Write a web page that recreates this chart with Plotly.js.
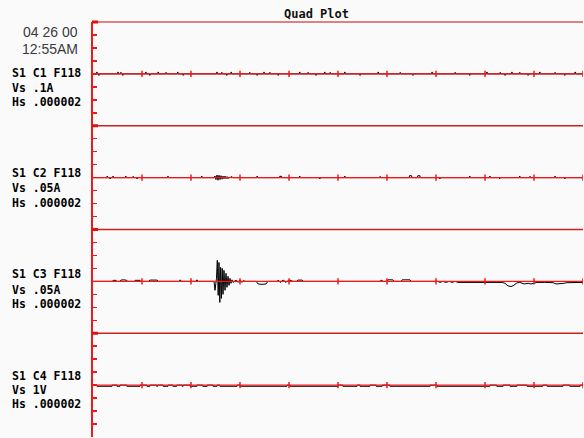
<!DOCTYPE html>
<html><head><meta charset="utf-8">
<script src="https://cdn.plot.ly/plotly-3.0.1.min.js"></script>
<style>html,body{margin:0;padding:0;background:#fafafa}#chart{width:584px;height:438px}</style>
</head><body><div id="chart"></div>
<script>
// ---- texts ----
const chartTitle = 'Quad Plot';
const dateLines = ['04 26 00', '12:55AM'];
const channelNames = ['S1 C1 F118', 'S1 C2 F118', 'S1 C3 F118', 'S1 C4 F118'];
const vScales = ['Vs .1A', 'Vs .05A', 'Vs .05A', 'Vs 1V'];
const hScales = ['Hs .000002', 'Hs .000002', 'Hs .000002', 'Hs .000002'];

// ---- waveforms: time in horizontal divisions, value in vertical divisions ----
const c1_t = [0,
 0.07,0.08,0.09, 0.11,0.12,0.13, 0.5,0.51,0.52, 0.56,0.57,0.58, 0.6,0.61,0.62,
 1.07,1.08,1.09, 1.15,1.16,1.17, 1.32,1.33,1.34, 1.48,1.49,1.5, 1.72,1.73,1.74, 1.83,1.84,1.85,
 2.52,2.53,2.54, 2.62,2.63,2.64, 2.72,2.73,2.74, 2.81,2.82,2.83,
 3.19,3.2,3.21, 3.34,3.35,3.36, 3.48,3.49,3.5, 3.6,3.61,3.62, 3.77,3.78,3.79,
 4.21,4.22,4.23, 4.38,4.39,4.4, 4.54,4.55,4.56, 4.72,4.73,4.74, 4.83,4.84,4.85,
 5.13,5.14,5.15, 5.44,5.45,5.46, 5.81,5.82,5.83,
 6.26,6.27,6.28, 6.52,6.53,6.54, 6.91,6.92,6.93,
 7.38,7.39,7.4, 7.68,7.69,7.7,
 8.03,8.04,8.05, 8.3,8.31,8.32, 8.4,8.41,8.42, 8.54,8.55,8.56, 8.7,8.71,8.72, 8.87,8.88,8.89,
 9.11,9.12,9.13, 9.42,9.43,9.44, 9.62,9.63,9.64, 9.83,9.84,9.85,
 10];
const c1_v = [0,
 0,0.15,0, 0,-0.12,0, 0,0.15,0, 0,0.12,0, 0,-0.12,0,
 0,0.15,0, 0,-0.12,0, 0,0.15,0, 0,0.12,0, 0,0.15,0, 0,-0.12,0,
 0,0.15,0, 0,0.12,0, 0,-0.12,0, 0,0.15,0,
 0,0.12,0, 0,-0.12,0, 0,0.15,0, 0,0.12,0, 0,-0.12,0,
 0,0.15,0, 0,0.12,0, 0,-0.12,0, 0,0.15,0, 0,0.12,0,
 0,0.15,0, 0,-0.12,0, 0,0.15,0,
 0,0.12,0, 0,-0.12,0, 0,0.15,0,
 0,0.12,0, 0,-0.12,0,
 0,0.15,0, 0,0.12,0, 0,-0.12,0, 0,0.15,0, 0,0.12,0, 0,-0.12,0,
 0,0.15,0, 0,0.12,0, 0,-0.12,0, 0,0.15,0,
 0];

const c2_t = [0,
 0.28,0.29,0.3, 0.34,0.35,0.36, 0.4,0.41,0.42, 0.66,0.67,0.68, 0.81,0.82,0.83, 0.89,0.9,0.91, 1.52,1.53,1.54, 2.21,2.22,2.23,
 2.469,2.49,2.51,2.531,2.551,2.571,2.592,2.612,2.633,2.653,2.673,2.694,2.714,2.735,2.755,2.776,2.796,2.837,2.857,
 3.34,3.35,3.36, 3.8,3.81,3.85,3.86, 4.21,4.22,4.23, 4.62,4.63,4.64, 5.13,5.14,5.15, 5.85,5.86,5.87,
 6.45,6.46,6.5,6.51, 6.62,6.63,6.67,6.68, 7.07,7.08,7.09, 7.68,7.69,7.7, 8.09,8.1,8.11, 8.29,8.3,8.31,
 8.7,8.71,8.72, 8.91,8.92,8.93, 9.42,9.43,9.44, 9.62,9.63,9.64,
 10];
const c2_v = [0,
 0,0.12,0, 0,-0.1,0, 0,0.12,0, 0,0.12,0, 0,0.1,0, 0,-0.1,0, 0,0.12,0, 0,0.12,0,
 0,0.12,-0.15,0.2,-0.2,0.18,-0.15,0.15,-0.12,0.12,-0.08,0.12,-0.08,0.08,-0.08,0.04,0,0.08,0,
 0,0.12,0, 0,0.1,0.1,0, 0,0.12,0, 0,-0.1,0, 0,0.12,0, 0,0.1,0,
 0,0.15,0.15,0, 0,0.15,0.15,0, 0,-0.1,0, 0,0.12,0, 0,0.12,0, 0,-0.1,0,
 0,0.12,0, 0,0.1,0, 0,0.12,0, 0,-0.1,0,
 0];

const c3_t = [0,
 0.39,0.41,0.47,0.49, 0.55,0.57,0.63,0.69,0.71, 0.84,0.86,0.96,0.98, 1.14,1.16,1.31,1.33, 1.76,1.78,1.8, 2.1,2.12,2.14,
 2.47,2.49,2.52,2.537,2.555,2.571,2.588,2.604,2.62,2.637,2.653,2.673,2.694,2.714,2.735,2.755,2.776,2.796,2.816,2.837,2.857,2.878,
 2.92,2.96,3.0,3.04,3.08,3.1,
 3.33,3.37,3.45,3.53,3.57,
 3.76,3.78,3.82,3.88,3.94,3.96, 4.02,4.08,
 4.16,4.18,4.27,4.29,
 5.86,5.88,5.92, 6.0,6.02,6.12,6.14, 6.29,6.31,6.47,6.49,
 7.04,7.08,7.14,7.2,7.27,7.33,7.39,7.45,
 7.49,7.69,7.9,8.02,8.18,8.35,
 8.41,8.47,8.53,8.59,8.65,8.71,8.8,8.88,8.94,9.02,9.06,9.22,9.39,9.45,9.53,9.61,9.67,9.84,10];
const c3_v = [0,
 0,0.08,0.08,0, 0,0.1,0.12,0.08,0, 0,0.08,0.08,0, 0,0.1,0.1,0, 0,0.12,0, 0,0.12,0,
 0,-0.69,0.23,1.62,-1.08,1.46,-1.62,1.08,-1.31,1.0,-1.0,0.85,-0.69,0.62,-0.46,0.39,-0.31,0.23,-0.15,0.12,-0.08,0,
 0.1,-0.08,0.1,-0.08,0.08,0,
 0,-0.2,-0.23,-0.2,0,
 0,0.1,-0.08,0.1,-0.08,0, 0.1,0,
 0,0.1,0.1,0,
 0,0.1,0, 0,0.12,0.12,0, 0,0.12,0.12,0,
 0,-0.08,0,-0.08,0,-0.08,0,-0.08,
 -0.08,-0.1,-0.08,-0.08,-0.08,-0.08,
 -0.15,-0.35,-0.4,-0.3,-0.12,-0.08,-0.2,-0.15,-0.2,-0.1,-0.08,-0.08,-0.1,-0.2,-0.2,-0.15,-0.1,-0.08,-0.08];

const c4_t = [0,
 0.08,0.08,0.39,0.39, 0.49,0.49,0.55,0.55, 0.69,0.69,0.96,0.96, 1.1,1.1,1.16,1.16, 1.3,1.3,1.32,1.32, 1.43,1.43,1.53,1.53,
 1.63,1.63,1.71,1.71, 1.82,1.82,1.84,1.84, 1.98,1.98,2.12,2.12, 2.24,2.24,2.33,2.33, 2.45,2.45,2.53,2.53, 2.59,2.59,2.94,2.94,
 3.0,3.0,3.96,3.96, 4.02,4.02,5.0,5.0, 5.1,5.1,5.39,5.39, 5.45,5.45,5.65,5.65, 5.78,5.78,5.9,5.9, 6.06,6.06,6.88,6.88,
 7.02,7.02,8.1,8.1, 8.24,8.24,8.37,8.37, 8.51,8.51,8.65,8.65, 8.86,8.86,9.18,9.18, 9.27,9.27,9.59,9.59, 9.73,9.73,9.94,9.94,
 10];
const c4_v = [0,
 0,-0.09,-0.09,0, 0,-0.09,-0.09,0, 0,-0.09,-0.09,0, 0,-0.09,-0.09,0, 0,-0.09,-0.09,0, 0,-0.09,-0.09,0,
 0,-0.09,-0.09,0, 0,-0.09,-0.09,0, 0,-0.09,-0.09,0, 0,-0.09,-0.09,0, 0,-0.09,-0.09,0, 0,-0.09,-0.09,0,
 0,-0.09,-0.09,0, 0,-0.09,-0.09,0, 0,-0.09,-0.09,0, 0,-0.09,-0.09,0, 0,-0.09,-0.09,0, 0,-0.09,-0.09,0,
 0,-0.09,-0.09,0, 0,-0.09,-0.09,0, 0,-0.09,-0.09,0, 0,-0.09,-0.09,0, 0,-0.09,-0.09,0, 0,-0.09,-0.09,0,
 0];

// ---- layout geometry (pixels of the 584x438 page) ----
const W = 584, H = 438, ML = 93, MR = 1, MT = 22, MB = 1;
const PW = W - ML - MR, PH = H - MT - MB;
const px2x = p => (p - ML) / PW;
const py2y = p => (H - MB - p) / PH;

const RED = '#f01818';
const series = [[c1_t, c1_v], [c2_t, c2_v], [c3_t, c3_v], [c4_t, c4_v]];
const yNames = ['y', 'y2', 'y3', 'y4'];
const domains = [[0.75, 1], [0.5, 0.75], [0.25, 0.5], [0, 0.25]];

const traces = series.map((s, i) => ({
  type: 'scatter', mode: 'lines', x: s[0], y: s[1], yaxis: yNames[i], xaxis: 'x',
  line: {color: '#000', width: 1}, hoverinfo: 'skip', showlegend: false
}));

const layout = {
  width: W, height: H,
  margin: {l: ML, r: MR, t: MT, b: MB, pad: 0},
  paper_bgcolor: '#fafafa', plot_bgcolor: '#fafafa',
  showlegend: false,
  xaxis: {range: [0, 10], visible: false, anchor: 'y4', fixedrange: true},
  shapes: [], annotations: []
};
yNames.forEach((n, i) => {
  const key = i === 0 ? 'yaxis' : 'yaxis' + (i + 1);
  layout[key] = {
    domain: domains[i], range: [-4, 4], anchor: 'x',
    showline: true, linecolor: RED, linewidth: 2,
    ticks: 'inside', ticklen: 4, tickwidth: 1.5, tickcolor: RED,
    tick0: 0, dtick: 1, showticklabels: false,
    showgrid: false, zeroline: false, fixedrange: true
  };
});

// panel borders
[1, 0.75, 0.5, 0.25].forEach((p, i) => {
  layout.shapes.push({type: 'line', xref: 'paper', yref: 'paper', x0: 0, x1: 1, y0: p, y1: p,
    line: {color: i === 0 ? '#d85a5a' : '#cf1f1f', width: 1.3}, layer: 'above'});
  layout.shapes.push({type: 'rect', xref: 'paper', yref: 'paper', x0: px2x(92), x1: px2x(98),
    y0: p - 1.5 / PH, y1: p + 1.5 / PH, fillcolor: '#e01010', line: {width: 0}, layer: 'above'});
});
// centre lines with division ticks
yNames.forEach(n => {
  layout.shapes.push({type: 'line', xref: 'paper', yref: n, x0: 0, x1: 1, y0: 0, y1: 0,
    line: {color: RED, width: 1.3}, layer: 'above'});
  for (let k = 1; k <= 10; k++) {
    layout.shapes.push({type: 'line', xref: 'x', yref: n, x0: k, x1: k, y0: -0.25, y1: 0.25,
      line: {color: RED, width: 1.5}, layer: 'above'});
  }
});

// title
layout.annotations.push({text: '<b>' + chartTitle + '</b>', xref: 'paper', yref: 'paper',
  x: px2x(316), y: py2y(14), xanchor: 'center', yanchor: 'middle', showarrow: false,
  font: {family: 'DejaVu Sans Mono', size: 12, color: '#111'}});
// date / time
const dateY = [32, 49];
dateLines.forEach((t, i) => layout.annotations.push({text: t, xref: 'paper', yref: 'paper',
  x: px2x(80), y: py2y(dateY[i]), xanchor: 'right', yanchor: 'middle', showarrow: false,
  font: {family: 'Liberation Sans', size: 14, color: '#3a3a3a'}}));
// channel labels
const labelY = [[72.5, 87.5, 101.5], [173, 188.5, 202.5], [274, 289.5, 303.5], [375.5, 389.5, 404]];
channelNames.forEach((c, i) => {
  [c, vScales[i], hScales[i]].forEach((t, j) => layout.annotations.push({
    text: '<b>' + t + '</b>', xref: 'paper', yref: 'paper',
    x: px2x(10), y: py2y(labelY[i][j]), xanchor: 'left', yanchor: 'middle', showarrow: false,
    font: {family: 'DejaVu Sans Mono', size: 11.5, color: '#000'}}));
});

Plotly.newPlot('chart', traces, layout, {staticPlot: true, displayModeBar: false});
</script></body></html>
